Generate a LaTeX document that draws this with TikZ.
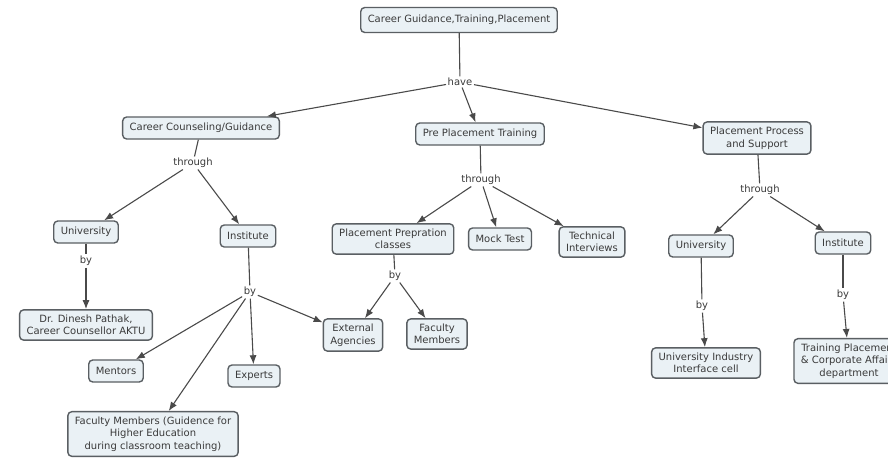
\documentclass[tikz,border=0pt]{standalone}
\usepackage{fontspec}
\setmainfont{DejaVu Sans}
\usetikzlibrary{arrows.meta}
\definecolor{boxfill}{HTML}{EAF1F5}
\definecolor{boxline}{HTML}{5A5F63}
\definecolor{ink}{HTML}{3A3A3A}
\definecolor{wire}{HTML}{4A4A4A}
\tikzset{
  concept/.style={draw=boxline, line width=1.4pt, fill=boxfill, rounded corners=4pt,
    text=ink, align=center, inner xsep=7pt, inner ysep=5pt, minimum height=22pt,
    font=\fontsize{10}{12.5}\selectfont},
  phrase/.style={fill=white, text=ink, inner sep=1.5pt, font=\fontsize{10}{11}\selectfont},
  link/.style={draw=wire, line width=1.1pt},
  arrowlink/.style={link, -{Latex[length=9pt,width=7pt]}}
}
\begin{document}
\begin{tikzpicture}[x=1pt, y=-1pt]
\useasboundingbox (0,0) rectangle (888,458);
\clip (0,0) rectangle (888,458);
\fill[white] (0,0) rectangle (888,458);

% concepts
\node[concept, minimum height=25pt] (root) at (459,20) {Career Guidance,Training,Placement};
\node[concept] (ccg) at (201,128) {Career Counseling/Guidance};
\node[concept] (ppt) at (480,134) {Pre Placement Training};
\node[concept] (pps) at (757,138) {Placement Process\\and Support};

\node[concept] (univL) at (86,232) {University};
\node[concept] (instL) at (248,236) {Institute};
\node[concept] (dinesh) at (86,325) {Dr. Dinesh Pathak,\\Career Counsellor AKTU};
\node[concept] (mentors) at (116,371) {Mentors};
\node[concept] (experts) at (254,376) {Experts};
\node[concept] (facG) at (153,434) {Faculty Members (Guidence for\\Higher Education\\during classroom teaching)};
\node[concept] (ext) at (353,335) {External\\Agencies};
\node[concept] (facM) at (437,334) {Faculty\\Members};

\node[concept] (ppc) at (393,239) {Placement Prepration\\classes};
\node[concept] (mock) at (500,239) {Mock Test};
\node[concept] (tech) at (592,242) {Technical\\Interviews};

\node[concept] (univR) at (701,246) {University};
\node[concept] (instR) at (843,243) {Institute};
\node[concept] (uiic) at (706,363) {University Industry\\Interface cell};
\node[concept] (tpca) at (849,361) {Training Placement\\\& Corporate Affairs\\department};

% linking phrases
\node[phrase] (have) at (460,82) {have};
\node[phrase] (thrL) at (193,163) {through};
\node[phrase] (thrM) at (481,180) {through};
\node[phrase] (thrR) at (760,190) {through};
\node[phrase] (byUL) at (86,261) {by};
\node[phrase] (byIL) at (250,292) {by};
\node[phrase] (byPC) at (395,276) {by};
\node[phrase] (byUR) at (702,306) {by};
\node[phrase] (byIR) at (843,295) {by};

% connectors
\draw[link] (root) -- (have);
\draw[arrowlink] (have) -- (ccg);
\draw[arrowlink] (have) -- (ppt);
\draw[arrowlink] (have) -- (pps);

\draw[link] (ccg) -- (thrL);
\draw[arrowlink] (thrL) -- (univL);
\draw[arrowlink] (thrL) -- (instL);
\draw[link] (univL) -- (byUL);
\draw[arrowlink] (byUL) -- (dinesh);
\draw[link] (instL) -- (byIL);
\draw[arrowlink] (byIL) -- (mentors);
\draw[arrowlink] (byIL) -- (facG);
\draw[arrowlink] (byIL) -- (experts);
\draw[arrowlink] (byIL) -- (ext);

\draw[link] (ppt) -- (thrM);
\draw[arrowlink] (thrM) -- (ppc);
\draw[arrowlink] (thrM) -- (mock);
\draw[arrowlink] (thrM) -- (tech);
\draw[link] (ppc) -- (byPC);
\draw[arrowlink] (byPC) -- (ext);
\draw[arrowlink] (byPC) -- (facM);

\draw[link] (pps) -- (thrR);
\draw[arrowlink] (thrR) -- (univR);
\draw[arrowlink] (thrR) -- (instR);
\draw[link] (univR) -- (byUR);
\draw[arrowlink] (byUR) -- (uiic);
\draw[link] (instR) -- (byIR);
\draw[arrowlink] (byIR) -- (tpca);
\end{tikzpicture}
\end{document}
